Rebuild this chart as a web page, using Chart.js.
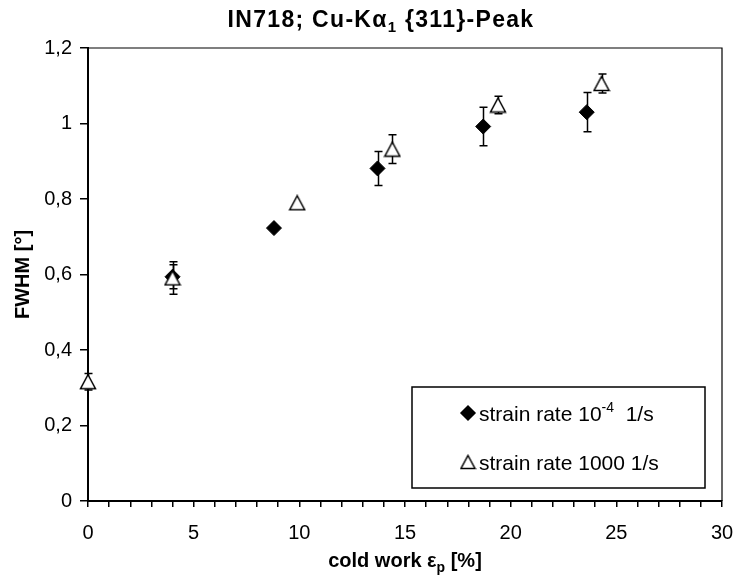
<!DOCTYPE html>
<html>
<head>
<meta charset="utf-8">
<script src="https://cdn.jsdelivr.net/npm/chart.js@4.4.1/dist/chart.umd.min.js"></script>
<style>
  html, body { margin: 0; padding: 0; background: #fff; }
</style>
</head>
<body>
<canvas id="fwhmChart" width="734" height="577"></canvas>
<script>
// strain rate 10^-4 1/s  (filled diamonds)
const slowStrain = [4.0, 8.8, 13.7, 18.7, 23.6];
const slowFwhm = [0.594, 0.723, 0.881, 0.992, 1.030];
const slowErr = [0.032, 0, 0.045, 0.051, 0.052];

// strain rate 1000 1/s  (open triangles)
const fastStrain = [0, 4.0, 9.9, 14.4, 19.4, 24.3];
const fastFwhm = [0.316, 0.591, 0.79, 0.932, 1.049, 1.106];
const fastErr = [0.022, 0.043, 0, 0.038, 0.023, 0.025];

const xTicks = [0, 5, 10, 15, 20, 25, 30];
const xMinorStep = 1;
const yTicks = [0, 0.2, 0.4, 0.6, 0.8, 1, 1.2];

const FONT = '"Liberation Sans", Arial, Helvetica, sans-serif';
Chart.defaults.font.family = FONT;
Chart.defaults.color = '#000';

// open triangle marker, centred on its bounding box like the original
function makeTriangle(w, h) {
  const c = document.createElement('canvas');
  c.width = w + 3; c.height = h + 3;
  const g = c.getContext('2d');
  g.lineWidth = 1.5;
  g.strokeStyle = '#000';
  g.fillStyle = '#fff';
  g.beginPath();
  g.moveTo(1.5 + w / 2, 1.5);
  g.lineTo(1.5 + w, 1.5 + h);
  g.lineTo(1.5, 1.5 + h);
  g.closePath();
  g.fill();
  g.stroke();
  return c;
}
const triangle = makeTriangle(15, 14);
const triangleSmall = makeTriangle(14, 13);

const toPoints = (xs, ys) => xs.map((x, i) => ({x: x, y: ys[i]}));
const errorsByDataset = [fastErr, slowErr];

const errorBars = {
  id: 'errorBars',
  beforeDatasetsDraw(chart) {
    const {ctx, chartArea, scales: {x, y}} = chart;
    ctx.save();
    // frame top/right
    ctx.strokeStyle = '#000';
    ctx.lineWidth = 1.2;
    ctx.beginPath();
    ctx.moveTo(chartArea.left, chartArea.top);
    ctx.lineTo(chartArea.right, chartArea.top);
    ctx.lineTo(chartArea.right, chartArea.bottom);
    ctx.stroke();

    ctx.lineWidth = 1.5;
    chart.data.datasets.forEach((ds, di) => {
      const errs = errorsByDataset[di];
      ds.data.forEach((p, i) => {
        const e = errs[i];
        if (!e) return;
        const px = Math.round(x.getPixelForValue(p.x)) + 0.5;
        const top = y.getPixelForValue(p.y + e);
        const bot = y.getPixelForValue(p.y - e);
        ctx.beginPath();
        ctx.moveTo(px, top); ctx.lineTo(px, bot);
        ctx.moveTo(px - 4, top); ctx.lineTo(px + 4, top);
        ctx.moveTo(px - 4, bot); ctx.lineTo(px + 4, bot);
        ctx.stroke();
      });
    });
    ctx.restore();
  }
};

// text with one sub/superscript part
function drawParts(ctx, parts, x, y, align, spacing) {
  ctx.letterSpacing = spacing || '0px';
  let total = 0;
  parts.forEach(p => { ctx.font = p.font; total += ctx.measureText(p.text).width; });
  let cx = align === 'center' ? x - total / 2 : x;
  ctx.textAlign = 'left';
  parts.forEach(p => {
    ctx.font = p.font;
    ctx.fillText(p.text, cx, y + (p.dy || 0));
    cx += ctx.measureText(p.text).width;
  });
  ctx.letterSpacing = '0px';
}

const labelsPlugin = {
  id: 'labelsPlugin',
  afterDraw(chart) {
    const {ctx, chartArea} = chart;
    ctx.save();
    ctx.fillStyle = '#000';
    ctx.textBaseline = 'alphabetic';

    // title
    drawParts(ctx, [
      {text: 'IN718; Cu-K\u03b1', font: 'bold 23px ' + FONT},
      {text: '1', font: 'bold 15px ' + FONT, dy: 5},
      {text: ' {311}-Peak', font: 'bold 23px ' + FONT}
    ], 381, 27, 'center', '1.3px');

    // x axis title
    const cx = (chartArea.left + chartArea.right) / 2;
    drawParts(ctx, [
      {text: 'cold work \u03b5', font: 'bold 20px ' + FONT},
      {text: 'p', font: 'bold 14px ' + FONT, dy: 5},
      {text: ' [%]', font: 'bold 20px ' + FONT}
    ], cx, 567, 'center');

    // y axis title
    ctx.save();
    ctx.translate(29, (chartArea.top + chartArea.bottom) / 2);
    ctx.rotate(-Math.PI / 2);
    ctx.font = 'bold 20px ' + FONT;
    ctx.textAlign = 'center';
    ctx.fillText('FWHM [\u00b0]', 0, 0);
    ctx.restore();

    // legend box
    const lx = 412, ly = 387, lw = 293, lh = 101;
    ctx.fillStyle = '#fff';
    ctx.fillRect(lx, ly, lw, lh);
    ctx.strokeStyle = '#000';
    ctx.lineWidth = 1.5;
    ctx.strokeRect(lx, ly, lw, lh);
    ctx.fillStyle = '#000';

    const ds = chart.data.datasets;
    // slow series: diamond
    const y1 = 413;
    ctx.save();
    ctx.fillStyle = '#000';
    ctx.strokeStyle = '#000';
    Chart.helpers.drawPoint(ctx, {pointStyle: 'rectRot', radius: 7, borderWidth: 1}, 468, y1);
    ctx.restore();
    const slowLabel = ds[1].label.split('^');
    drawParts(ctx, [
      {text: slowLabel[0], font: '21px ' + FONT},
      {text: slowLabel[1], font: '14px ' + FONT, dy: -9},
      {text: '  ' + slowLabel[2], font: '21px ' + FONT}
    ], 479, y1 + 8, 'left');

    // fast series: triangle
    const y2 = 462;
    ctx.drawImage(triangleSmall, 468 - triangleSmall.width / 2, y2 - triangleSmall.height / 2);
    drawParts(ctx, [{text: ds[0].label, font: '21px ' + FONT}], 479, y2 + 8, 'left');
    ctx.restore();
  }
};

new Chart(document.getElementById('fwhmChart'), {
  type: 'scatter',
  data: {
    datasets: [
      {
        label: 'strain rate 1000 1/s',
        data: toPoints(fastStrain, fastFwhm),
        pointStyle: triangle,
        order: 0,
        clip: false
      },
      {
        label: 'strain rate 10^-4^1/s',
        data: toPoints(slowStrain, slowFwhm),
        pointStyle: 'rectRot',
        pointRadius: 7.5,
        pointHoverRadius: 7.5,
        backgroundColor: '#000',
        borderColor: '#000',
        borderWidth: 1,
        order: 1,
        clip: false
      }
    ]
  },
  options: {
    responsive: false,
    animation: false,
    events: [],
    layout: {padding: {top: 48, right: 12, left: 0, bottom: 0}},
    plugins: {
      legend: {display: false},
      title: {display: false},
      tooltip: {enabled: false}
    },
    scales: {
      x: {
        type: 'linear',
        min: 0,
        max: 30,
        afterFit: s => { s.height = 76; s.paddingLeft = 0; s.paddingRight = 0; },
        afterBuildTicks: s => {
          const t = [];
          for (let v = s.min; v <= s.max; v += xMinorStep) t.push({value: v});
          s.ticks = t;
        },
        border: {display: true, color: '#000', width: 2},
        grid: {drawOnChartArea: false, drawTicks: true, tickLength: 6, color: '#000', lineWidth: 1.5},
        ticks: {
          autoSkip: false,
          maxRotation: 0,
          padding: 14,
          font: {size: 20},
          color: '#000',
          callback: v => xTicks.includes(v) ? String(v) : ''
        }
      },
      y: {
        type: 'linear',
        min: 0,
        max: 1.2,
        afterFit: s => { s.width = 88; s.paddingTop = 0; s.paddingBottom = 0; },
        afterBuildTicks: s => { s.ticks = yTicks.map(v => ({value: v})); },
        border: {display: true, color: '#000', width: 2},
        grid: {drawOnChartArea: false, drawTicks: true, tickLength: 8, color: '#000', lineWidth: 1.5},
        ticks: {
          padding: 8,
          font: {size: 20},
          color: '#000',
          callback: v => String(Number(v.toFixed(1))).replace('.', ',')
        }
      }
    }
  },
  plugins: [errorBars, labelsPlugin]
});
</script>
</body>
</html>
